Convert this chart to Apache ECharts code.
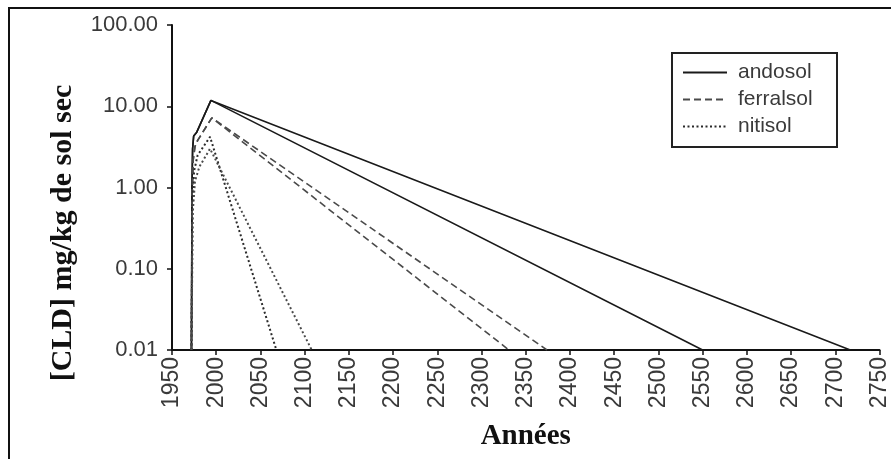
<!DOCTYPE html>
<html>
<head>
<meta charset="utf-8">
<script src="https://cdn.jsdelivr.net/npm/echarts@6/dist/echarts.min.js"></script>
<style>
  html, body { margin: 0; padding: 0; background: #fff; }
  #chart { width: 891px; height: 459px; }
</style>
</head>
<body>
<div id="chart"></div>
<script>
// Chlordecone concentration in soil (mg/kg dry soil), log scale, by year.
// Each soil type has two simulated curves: build-up 1972-1993, then decay.
const andosolHigh = [[1972, 0.01], [1972.6, 1.0], [1973.3, 3.0], [1974.5, 4.3], [1978, 4.8], [1994, 11.8], [2717, 0.01]];
const andosolLow  = [[1972, 0.01], [1972.6, 1.0], [1973.3, 3.0], [1974.5, 4.3], [1978, 4.8], [1994, 11.8], [2550, 0.01]];
const ferralsolHigh = [[1972, 0.01], [1972.8, 0.8], [1974, 2.2], [1976, 3.2], [1979, 3.8], [1995, 7.2], [2374, 0.01]];
const ferralsolLow  = [[1972, 0.01], [1972.8, 0.8], [1974, 2.2], [1976, 3.2], [1979, 3.8], [1995, 7.2], [2331, 0.01]];
const nitisolFast = [[1972, 0.01], [1973, 0.6], [1975, 1.6], [1979, 2.5], [1993, 4.2], [2068, 0.01]];
const nitisolSlow = [[1972, 0.01], [1973.5, 0.5], [1976, 1.2], [1981, 1.8], [1993, 3.0], [2108, 0.01]];

const yTicks = [0.01, 0.1, 1, 10, 100];
const xMin = 1950, xMax = 2750, xStep = 50;

const sansFont = '"Liberation Sans", Arial, sans-serif';
const serifFont = '"Liberation Serif", "Times New Roman", serif';
const labelColor = '#3a3a3a';

function lineSeries(name, data, type, color, width) {
  return {
    name: name,
    type: 'line',
    data: data,
    symbol: 'none',
    smooth: false,
    lineStyle: { color: color, width: width, type: type },
    itemStyle: { color: color },
    animation: false
  };
}

const chart = echarts.init(document.getElementById('chart'), null, { renderer: 'canvas' });

chart.setOption({
  animation: false,
  backgroundColor: '#ffffff',
  grid: { left: 172, top: 25, right: 7, bottom: 109, containLabel: false },
  xAxis: {
    type: 'value',
    min: xMin,
    max: xMax,
    interval: xStep,
    name: 'Années',
    nameLocation: 'middle',
    nameGap: 72,
    nameTextStyle: { fontFamily: serifFont, fontWeight: 'bold', fontSize: 29, color: '#111' },
    axisLine: { show: true, onZero: false, lineStyle: { color: '#111', width: 2 } },
    axisTick: { show: true, length: 5, lineStyle: { color: '#111', width: 1.5 } },
    axisLabel: {
      rotate: 90,
      margin: 7,
      fontFamily: sansFont,
      fontSize: 23,
      color: labelColor,
      formatter: function (v) { return String(v); }
    },
    splitLine: { show: false }
  },
  yAxis: {
    type: 'log',
    logBase: 10,
    min: yTicks[0],
    max: yTicks[yTicks.length - 1],
    axisLine: { show: true, lineStyle: { color: '#111', width: 2 } },
    axisTick: { show: true, length: 5, lineStyle: { color: '#111', width: 1.5 } },
    axisLabel: {
      margin: 14,
      fontFamily: sansFont,
      fontSize: 22,
      color: labelColor,
      formatter: function (v) { return Number(v).toFixed(2); }
    },
    splitLine: { show: false }
  },
  legend: {
    orient: 'vertical',
    left: 682,
    top: 62,
    padding: 0,
    itemWidth: 44,
    itemHeight: 14,
    itemGap: 6,
    data: ['andosol', 'ferralsol', 'nitisol'],
    itemStyle: { color: 'transparent', borderColor: 'transparent', borderWidth: 0, opacity: 0 },
    textStyle: { fontFamily: sansFont, fontSize: 21, color: labelColor, padding: [0, 0, 0, 6] }
  },
  graphic: [
    {
      type: 'rect',
      silent: true,
      shape: { x: 9, y: 8, width: 900, height: 470 },
      style: { fill: 'none', stroke: '#111', lineWidth: 2 },
      z: 100
    },
    {
      type: 'rect',
      silent: true,
      shape: { x: 672, y: 53, width: 165, height: 94 },
      style: { fill: 'none', stroke: '#222', lineWidth: 2 },
      z: 100
    },
    {
      type: 'text',
      silent: true,
      x: 63,
      y: 233,
      rotation: Math.PI / 2,
      style: {
        text: '[CLD] mg/kg de sol sec',
        fontFamily: serifFont,
        fontWeight: 'bold',
        fontSize: 30,
        fill: '#111',
        align: 'center',
        verticalAlign: 'middle'
      },
      z: 100
    }
  ],
  series: [
    lineSeries('andosol', andosolHigh, 'solid', '#1a1a1a', 1.6),
    lineSeries('andosol', andosolLow, 'solid', '#1a1a1a', 1.6),
    lineSeries('ferralsol', ferralsolHigh, [7, 4], '#4a4a4a', 1.6),
    lineSeries('ferralsol', ferralsolLow, [7, 4], '#4a4a4a', 1.6),
    lineSeries('nitisol', nitisolFast, [2, 2.5], '#2a2a2a', 2),
    lineSeries('nitisol', nitisolSlow, [2, 2.5], '#4a4a4a', 2)
  ]
});
</script>
</body>
</html>
